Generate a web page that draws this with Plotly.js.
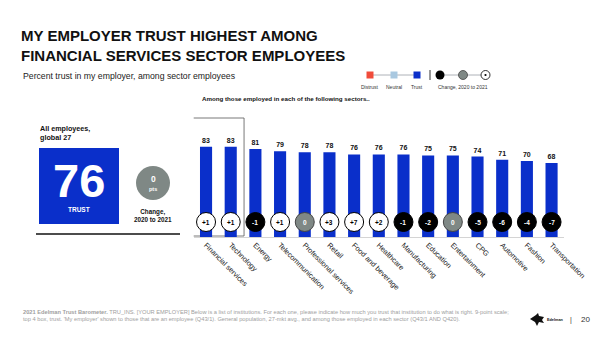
<!DOCTYPE html>
<html>
<head>
<meta charset="utf-8">
<script src="https://cdn.plot.ly/plotly-3.0.1.min.js"></script>
<style>html,body{margin:0;padding:0;background:#fff}#chart{width:600px;height:337px}</style>
</head>
<body>
<div id="chart"></div>
<script>
// ---- data ----
const sectors = ["Financial services","Technology","Energy","Telecommunication","Professional services","Retail","Food and beverage","Healthcare","Manufacturing","Education","Entertainment","CPG","Automotive","Fashion","Transportation"];
const trust = [83,83,81,79,78,78,76,76,76,75,75,74,71,70,68];
const change = [1,1,-1,1,0,3,7,2,-1,-2,0,-5,-6,-4,-7];
const globalTrust = 76;
const globalChange = 0;

// ---- helpers ----
const W = 600, H = 337;
const PX = x => x / W;
const PY = y => 1 - y / H;
const FONT = "Liberation Sans, Arial, Helvetica, sans-serif";
const BLUE = "#0a2fca";
const GRAY = "#7f8885";

const plotL = 193.7, plotR = 563.9, plotB = 237, plotT = 110;
const pxPerUnit = 1.087;
const yMax = (plotB - plotT) / pxPerUnit;
const circleY = (plotB - 222) / pxPerUnit;

const fmt = v => (v > 0 ? "+" + v : String(v));

const bars = {
  type: "bar", x: sectors, y: trust,
  marker: {color: BLUE, line: {width: 0}},
  width: 0.49,
  text: trust.map(v => "<b>" + v + "</b>"),
  textposition: "outside", textfont: {family: FONT, size: 7, color: "#111"},
  cliponaxis: false, hoverinfo: "skip"
};

// circles showing the change, 2020 to 2021
const circles = {
  type: "scatter", mode: "markers", x: sectors,
  y: sectors.map(() => circleY),
  marker: {
    size: 19,
    color: change.map(c => c > 0 ? "#ffffff" : (c < 0 ? "#000000" : GRAY)),
    line: {width: 1, color: change.map(c => c === 0 ? "#444444" : "#000000")}
  },
  cliponaxis: false, hoverinfo: "skip"
};

function A(text, x, y, size, o) {
  o = o || {};
  return Object.assign({
    text: text, x: PX(x), y: PY(y), xref: "paper", yref: "paper",
    xanchor: "left", yanchor: "middle", showarrow: false,
    font: {family: FONT, size: size, color: o.color || "#111"}
  }, o.extra || {});
}

const circleLabels = sectors.map((s, i) => ({
  text: "<b>" + fmt(change[i]) + "</b>", x: s, y: circleY, xref: "x", yref: "y",
  showarrow: false, xanchor: "center", yanchor: "middle",
  font: {family: FONT, size: 6.5, color: change[i] > 0 ? "#000000" : "#ffffff"}
}));

const annotations = circleLabels.concat([
  A("Percent trust in my employer, among sector employees", 21, 75.5, 8.7, {color: "#222"}),
  A("<b>Among those employed in each of the following sectors..</b>", 286, 98.5, 6.2, {extra: {xanchor: "center"}}),
  A("<b>All employees,<br>global 27</b>", 38, 133, 7.2, {extra: {align: "left"}}),
  A("<b>" + globalTrust + "</b>", 79, 180.5, 47, {color: "#fff", extra: {xanchor: "center"}}),
  A("<b>TRUST</b>", 79, 209, 6.5, {color: "#fff", extra: {xanchor: "center"}}),
  A("<b>" + globalChange + "</b>", 153, 179, 8.5, {color: "#fff", extra: {xanchor: "center"}}),
  A("<b>pts</b>", 153, 189, 5.5, {color: "#fff", extra: {xanchor: "center"}}),
  A("<b>Change,<br>2020 to 2021</b>", 153, 215.5, 6.3, {extra: {xanchor: "center"}}),
  A("Distrust", 370, 87, 5, {color: "#333", extra: {xanchor: "center"}}),
  A("Neutral", 394, 87, 5, {color: "#333", extra: {xanchor: "center"}}),
  A("Trust", 417, 87, 5, {color: "#333", extra: {xanchor: "center"}}),
  A("Change, 2020 to 2021", 463, 87, 5, {color: "#333", extra: {xanchor: "center"}}),
  A("<b>2021 Edelman Trust Barometer.</b> TRU_INS. [YOUR EMPLOYER] Below is a list of institutions. For each one, please indicate how much you trust that institution to do what is right. 9-point scale;<br>top 4 box, trust. 'My employer' shown to those that are an employee (Q43/1). General population, 27-mkt avg., and among those employed in each sector (Q43/1 AND Q420).",
    21, 315.5, 5.7, {color: "#a0a0a0", extra: {align: "left"}}),
  A("<b>Edelman</b>", 545, 319.5, 3.8, {color: "#111"}),
  A("|", 571, 319.5, 7, {color: "#333", extra: {xanchor: "center"}}),
  A("20", 585, 319.5, 8, {color: "#333", extra: {xanchor: "center"}})
]);

function rectPx(x0, y0, x1, y1, fill, line, lw) {
  return {type: "rect", xref: "paper", yref: "paper", x0: PX(x0), x1: PX(x1), y0: PY(y1), y1: PY(y0),
    fillcolor: fill, line: {color: line || fill, width: lw || 0}, layer: "below"};
}
function circPx(cx, cy, r, fill, line, lw) {
  return {type: "circle", xref: "paper", yref: "paper", x0: PX(cx - r), x1: PX(cx + r), y0: PY(cy + r), y1: PY(cy - r),
    fillcolor: fill, line: {color: line || fill, width: lw || 0}, layer: "below"};
}
function linePx(x0, y0, x1, y1, color, lw) {
  return {type: "line", xref: "paper", yref: "paper", x0: PX(x0), x1: PX(x1), y0: PY(y0), y1: PY(y1),
    line: {color: color, width: lw}, layer: "below"};
}
function pathPx(pts, fill) {
  const d = pts.map((p, i) => (i ? "L" : "M") + PX(p[0]).toFixed(5) + "," + PY(p[1]).toFixed(5)).join(" ") + " Z";
  return {type: "path", xref: "paper", yref: "paper", path: d, fillcolor: fill, line: {width: 0}, layer: "below"};
}

const shapes = [
  // highlight box around first two bars
  {type: "rect", xref: "x", yref: "paper", x0: -0.57, x1: 1.54, y0: PY(236), y1: PY(118),
    fillcolor: "rgba(0,0,0,0)", line: {color: "#555", width: 0.8}, layer: "below"},
  // left panel
  rectPx(39, 148, 119, 224, BLUE),
  circPx(153, 183, 17, GRAY),
  linePx(36, 234, 180, 234, "#111", 1.5),
  // legend
  linePx(370, 75, 417, 75, "#9aa0a6", 0.8),
  rectPx(366.5, 71.5, 373.5, 78.5, "#f04c3b"),
  rectPx(390.5, 71.5, 397.5, 78.5, "#a9c8e0"),
  rectPx(413.5, 71.5, 420.5, 78.5, BLUE),
  linePx(430, 70, 430, 80, "#333", 1),
  linePx(440, 75, 486, 75, "#9aa0a6", 0.8),
  circPx(440, 75, 4.5, "#000"),
  circPx(463, 75, 4.5, GRAY, "#444", 0.8),
  circPx(485.5, 75, 4.5, "#fff", "#000", 0.8),
  circPx(485.5, 75, 1.1, "#000"),
  // logo mark
  pathPx([[530,319],[536,315],[538,313],[539,316],[544,317],[542,320],[544,323],[539,322],[537,326],[535,322]], "#111")
];

const layout = {
  width: W, height: H,
  margin: {l: 0, r: 0, t: 0, b: 0, pad: 0},
  paper_bgcolor: "#fff", plot_bgcolor: "rgba(0,0,0,0)",
  showlegend: false,
  title: {
    text: "<b>MY EMPLOYER TRUST HIGHEST AMONG<br>FINANCIAL SERVICES SECTOR EMPLOYEES</b>",
    x: PX(21), xanchor: "left", y: PY(41), yanchor: "top",
    font: {family: FONT, size: 15, color: "#111"}
  },
  xaxis: {
    domain: [PX(plotL), PX(plotR)], range: [-0.5, 14.5], type: "category",
    tickangle: 45, tickfont: {family: FONT, size: 7.3, color: "#222"},
    showgrid: false, zeroline: false, showline: true, linecolor: "#d4d4d4", linewidth: 1,
    ticks: "", fixedrange: true
  },
  yaxis: {
    domain: [PY(plotB), PY(plotT)], range: [0, yMax],
    visible: false, showgrid: false, zeroline: false, fixedrange: true
  },
  bargap: 0.5,
  annotations: annotations,
  shapes: shapes,
  font: {family: FONT}
};

Plotly.newPlot("chart", [bars, circles], layout, {displayModeBar: false, staticPlot: true});
</script>
</body>
</html>
